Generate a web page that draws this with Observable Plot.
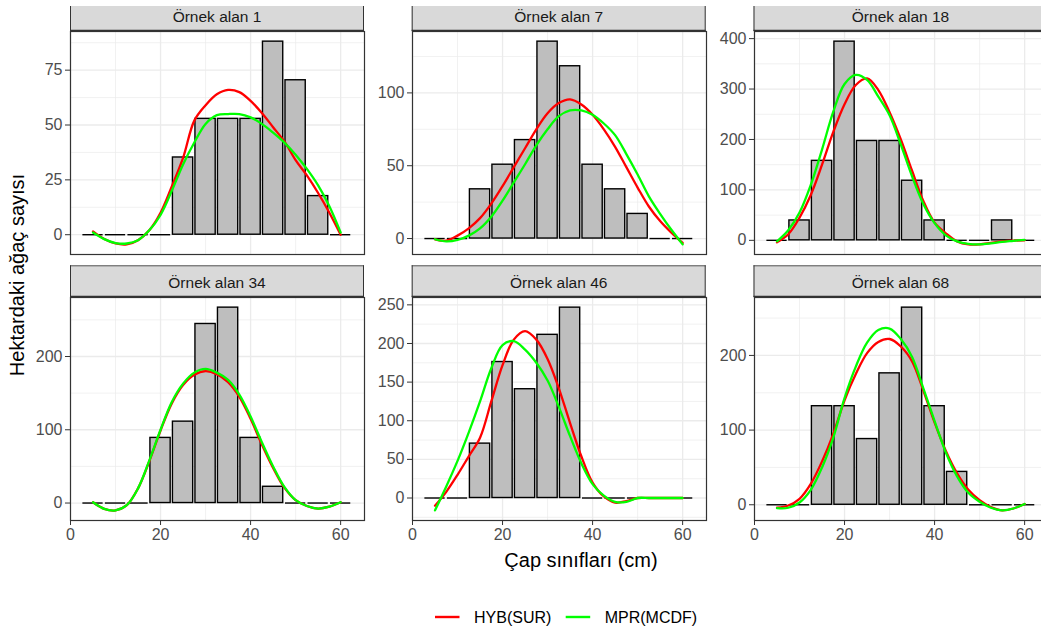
<!DOCTYPE html>
<html>
<head>
<meta charset="utf-8">
<script src="https://cdn.jsdelivr.net/npm/d3@7"></script>
<script src="https://cdn.jsdelivr.net/npm/@observablehq/plot@0.6"></script>
<style>
  body { margin: 0; background: #fff; }
  #wrap { position: relative; width: 1041px; height: 631px; overflow: hidden; font-family: "Liberation Sans", Arial, sans-serif; background: #fff; }
  #bg { position: absolute; left: 0; top: 0; }
</style>
</head>
<body>
<div id="wrap"></div>
<script>
// ---------------- data ----------------
const classes = [5, 10, 15, 20, 25, 30, 35, 40, 45, 50, 55, 60];
const curveX = [5, 7.5, 10, 12.5, 15, 17.5, 20, 22.5, 25, 27.5, 30, 32.5, 35, 37.5, 40, 42.5, 45, 47.5, 50, 52.5, 55, 57.5, 60];
const panelNames = ["Örnek alan 1", "Örnek alan 7", "Örnek alan 18", "Örnek alan 34", "Örnek alan 46", "Örnek alan 68"];
const seriesNames = ["HYB(SUR)", "MPR(MCDF)"];
const seriesColors = ["#FF0000", "#00FF00"];
const xTitle = "Çap sınıfları (cm)";
const yTitle = "Hektardaki ağaç sayısı";

const xTicks = [0, 20, 40, 60];
const xMinorTicks = [10, 30, 50];

const bars1  = [0, 0, 0, 0, 35.2, 52.8, 52.8, 52.8, 88, 70.4, 17.6, 0];
const bars7  = [0, 0, 33.8, 50.7, 67.6, 135.2, 118.3, 50.7, 33.8, 16.9, 0, 0];
const bars18 = [0, 39.4, 157.6, 394, 197, 197, 118.2, 39.4, 0, 0, 39.4, 0];
const bars34 = [0, 0, 0, 88.9, 111.1, 244.4, 266.7, 88.9, 22.2, 0, 0, 0];
const bars46 = [0, 0, 70.4, 176, 140.8, 211.2, 246.4, 0, 0, 0, 0, 0];
const bars68 = [0, 0, 132, 132, 88, 176, 264, 132, 44, 0, 0, 0];

const hyb1  = [1.5, -2, -4, -4.4, -2.5, 2, 10, 22, 35, 52, 59, 64, 66, 65, 61, 55.5, 49, 42.5, 34, 27, 19, 10, 0];
const mpr1  = [1, -2, -3.8, -4, -2.5, 2, 9, 20, 32, 42, 50.5, 54.5, 55, 55, 53.5, 50.5, 46.5, 42, 36.5, 30, 22.5, 13, 1];
const hyb7  = [-0.5, -1.5, 2, 7, 14, 24, 36, 49, 62, 75, 86, 93, 95.5, 92, 85, 75, 63, 49, 35, 22, 12, 4, -3];
const mpr7  = [-0.5, -2, -1, 2, 7, 15, 26, 38.5, 51, 64, 75, 84, 88, 88, 85, 79, 71, 58, 44, 29, 17, 6, -4];
const hyb18 = [-4, 12, 45, 90, 150, 215, 270, 308, 321, 298, 254, 200, 138, 78, 35, 14, -2, -8, -8, -5, -2, -0.5, 0];
const mpr18 = [-2, 20, 55, 110, 180, 255, 310, 328, 318, 285, 248, 190, 127, 72, 34, 10, -2, -7, -8, -6, -3, -1, 1];
const hyb34 = [1, -8, -10, -3, 20, 57, 99, 136, 161, 175, 180, 176, 165, 145, 115, 80, 48, 21, 4, -4, -7.5, -5, 1];
const mpr34 = [1, -8, -10, -3, 20, 58, 100, 138, 163, 178, 183, 178, 168, 148, 118, 83, 50, 22, 4, -4, -7.5, -5, 1];
const hyb46 = [-10, 8, 30, 54, 78, 125, 172, 205, 216, 205, 180, 142, 97, 54, 20, 2, -6, -4, 0, 0, 0, 0, 0];
const mpr46 = [-16, 15, 48, 85, 125, 168, 198, 203, 192, 175, 152, 118, 80, 45, 18, 3, -5, -5, 0, 0, 0, 0, 0];
const hyb68 = [-4, -1, 8, 28, 58, 95, 140, 175, 203, 218, 222, 212, 192, 153, 110, 72, 42, 20, 6, -3, -7.5, -5, 1];
const mpr68 = [-4.5, -4, 3, 20, 50, 90, 143, 185, 217, 234, 236, 222, 198, 156, 112, 70, 38, 16, 4, -4, -7.5, -5, 1];

const yTicks1  = [0, 25, 50, 75];
const yTicks7  = [0, 50, 100];
const yTicks18 = [0, 100, 200, 300, 400];
const yTicks34 = [0, 100, 200];
const yTicks46 = [0, 50, 100, 150, 200, 250];
const yTicks68 = [0, 100, 200];

const panels = [
  { name: panelNames[0], bars: bars1,  hyb: hyb1,  mpr: mpr1,  ticks: yTicks1 },
  { name: panelNames[1], bars: bars7,  hyb: hyb7,  mpr: mpr7,  ticks: yTicks7 },
  { name: panelNames[2], bars: bars18, hyb: hyb18, mpr: mpr18, ticks: yTicks18 },
  { name: panelNames[3], bars: bars34, hyb: hyb34, mpr: mpr34, ticks: yTicks34 },
  { name: panelNames[4], bars: bars46, hyb: hyb46, mpr: mpr46, ticks: yTicks46 },
  { name: panelNames[5], bars: bars68, hyb: hyb68, mpr: mpr68, ticks: yTicks68 }
];

// ---------------- layout ----------------
const W = 1041, H = 631;
const colLeft = [70, 411.7, 753.5];
const rowTop = [31, 297];
const stripTop = [6, 265.3];
const panelW = 294, panelH = 223;
const mL = 40, mT = 1, mR = 1;
const font = '"Liberation Sans", Arial, sans-serif';
const gridCol = "#EBEBEB";

const wrap = d3.select("#wrap");
const bg = wrap.append("svg").attr("id", "bg").attr("width", W).attr("height", H)
  .style("font-family", font);

// strips
panels.forEach((p, i) => {
  const col = i % 3, row = Math.floor(i / 3);
  const x0 = colLeft[col], y0 = stripTop[row], y1 = rowTop[row];
  const g = bg.append("g");
  g.append("rect").attr("x", x0).attr("y", y0).attr("width", panelW).attr("height", y1 - y0).attr("fill", "#D9D9D9");
  if (row === 1) g.append("line").attr("x1", x0).attr("x2", x0 + panelW).attr("y1", y0 + 0.5).attr("y2", y0 + 0.5).attr("stroke", "#555").attr("stroke-width", 1);
  g.append("line").attr("x1", x0 + 0.5).attr("x2", x0 + 0.5).attr("y1", y0).attr("y2", y1).attr("stroke", "#333");
  g.append("line").attr("x1", x0 + panelW - 0.5).attr("x2", x0 + panelW - 0.5).attr("y1", y0).attr("y2", y1).attr("stroke", "#333");
  g.append("line").attr("x1", x0).attr("x2", x0 + panelW).attr("y1", y1 - 0.5).attr("y2", y1 - 0.5).attr("stroke", "#333").attr("stroke-width", 1.5);
  g.append("text").attr("x", x0 + panelW / 2).attr("y", y1 - 15).attr("text-anchor", "middle")
    .attr("dominant-baseline", "central").attr("font-size", 15.5).attr("fill", "#1A1A1A").text(p.name);
});

// axis titles
bg.append("text").attr("x", 581).attr("y", 560).attr("text-anchor", "middle").attr("dominant-baseline", "central")
  .attr("font-size", 20).attr("fill", "#000").text(xTitle);
bg.append("text").attr("transform", "translate(17,275) rotate(-90)").attr("text-anchor", "middle").attr("dominant-baseline", "central")
  .attr("font-size", 20).attr("fill", "#000").text(yTitle);

// legend
const legendItems = [
  { name: seriesNames[0], color: seriesColors[0], x: 435 },
  { name: seriesNames[1], color: seriesColors[1], x: 565.7 }
];
legendItems.forEach(d => {
  bg.append("line").attr("x1", d.x).attr("x2", d.x + 24.5).attr("y1", 617).attr("y2", 617)
    .attr("stroke", d.color).attr("stroke-width", 2.4);
  bg.append("text").attr("x", d.x + 39).attr("y", 617).attr("dominant-baseline", "central")
    .attr("font-size", 16).attr("fill", "#000").text(d.name);
});

// panels
panels.forEach((p, i) => {
  const col = i % 3, row = Math.floor(i / 3);
  const bottom = row === 1;
  const mB = bottom ? 32 : 1;
  const vals = [...p.bars, ...p.hyb, ...p.mpr, 0];
  const lo = d3.min(vals), hi = d3.max(vals);
  const pad = (hi - lo) * 0.05;
  const domain = [lo - pad, hi + pad];
  const step = p.ticks[1] - p.ticks[0];
  const minor = [];
  for (let t = p.ticks[0] - step / 2; t <= domain[1]; t += step) if (t >= domain[0]) minor.push(t);

  const barData = classes.map((c, k) => ({ x1: c - 2.25, x2: c + 2.25, v: p.bars[k] }));
  const lineData = curveX.map((x, k) => ({ x, hyb: p.hyb[k], mpr: p.mpr[k] }));

  const marks = [
    Plot.gridX(xMinorTicks, { stroke: gridCol, strokeOpacity: 1, strokeWidth: 0.7 }),
    Plot.gridY(minor, { stroke: gridCol, strokeOpacity: 1, strokeWidth: 0.7 }),
    Plot.gridX(xTicks, { stroke: gridCol, strokeOpacity: 1, strokeWidth: 1.3 }),
    Plot.gridY(p.ticks, { stroke: gridCol, strokeOpacity: 1, strokeWidth: 1.3 }),
    Plot.rect(barData.filter(d => d.v > 0), { x1: "x1", x2: "x2", y1: d => 0, y2: "v", fill: "#BEBEBE", stroke: "#000", strokeWidth: 1.4 }),
    Plot.ruleY(barData.filter(d => d.v === 0), { y: d => 0, x1: "x1", x2: "x2", stroke: "#000", strokeWidth: 1.4 }),
    Plot.line(lineData, { x: "x", y: "hyb", stroke: seriesColors[0], strokeWidth: 2.3, curve: "catmull-rom" }),
    Plot.line(lineData, { x: "x", y: "mpr", stroke: seriesColors[1], strokeWidth: 2.3, curve: "catmull-rom" }),
    Plot.frame({ stroke: "#333", strokeWidth: 1.2 }),
    Plot.axisY(p.ticks, { tickSize: 5, tickPadding: 3, stroke: "#333", fill: "#4D4D4D", label: null, fontSize: 16 })
  ];
  if (bottom) marks.push(Plot.axisX(xTicks, { tickSize: 5, tickPadding: 3, stroke: "#333", fill: "#4D4D4D", label: null, fontSize: 16 }));

  const svg = Plot.plot({
    width: mL + panelW + mR,
    height: mT + panelH + mB,
    marginLeft: mL, marginRight: mR, marginTop: mT, marginBottom: mB,
    style: `position:absolute;left:${colLeft[col] - mL}px;top:${rowTop[row] - mT}px;background:transparent;overflow:visible;font-family:${font};font-size:16px;color:#4D4D4D;`,
    x: { domain: [0, 65.3], axis: bottom ? undefined : null },
    y: { domain },
    marks
  });
  document.getElementById("wrap").appendChild(svg);
});
</script>
</body>
</html>
